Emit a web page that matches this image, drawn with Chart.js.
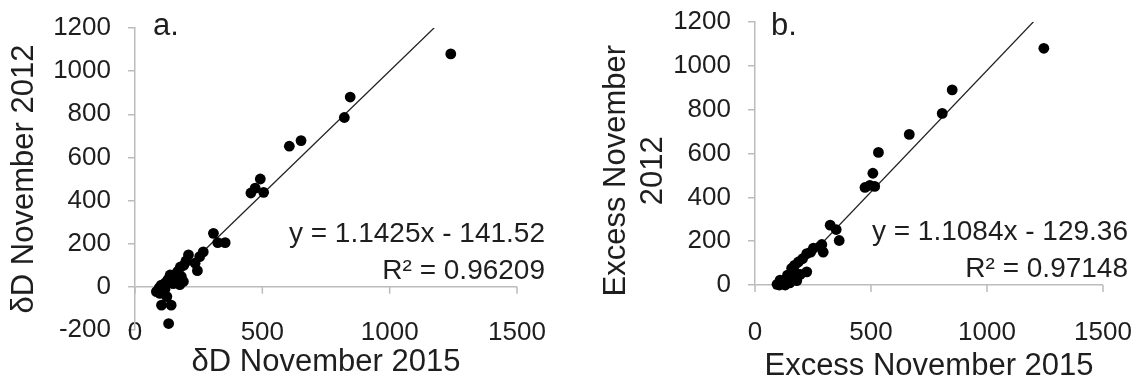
<!DOCTYPE html>
<html>
<head>
<meta charset="utf-8">
<script src="https://cdn.jsdelivr.net/npm/chart.js@4.4.1/dist/chart.umd.min.js"></script>
<style>
  html, body { margin: 0; padding: 0; background: #fff; width: 1143px; height: 382px; overflow: hidden; }
  .panel { position: absolute; top: 0; height: 382px; }
  #panelA { left: 0; width: 570px; }
  #panelB { left: 570px; width: 573px; }
</style>
</head>
<body>
<div class="panel" id="panelA"><canvas id="chartA" width="570" height="382"></canvas></div>
<div class="panel" id="panelB"><canvas id="chartB" width="573" height="382"></canvas></div>
<script>
// a. δD, November 2015 vs November 2012
const dD2015 = [1240, 845, 822, 652, 606, 492, 472, 455, 505, 308, 325, 354, 268, 254, 245, 236, 210, 200, 192, 178,
                168, 162, 182, 138, 170, 150, 130, 103, 95, 84, 110, 98, 125, 104, 142, 132, 118, 155, 190, 176, 120];
const dD2012 = [1080, 880, 785, 678, 652, 500, 458, 435, 438, 248, 205, 205, 162, 140, 75, 110, 148, 120, 100, 92,
                72, 60, 48, 55, 30, 15, 35, 8, -5, -22, -22, -30, -45, -85, -85, -170, -10, 40, 25, 10, 20];
const dDSlope = 1.1425;
const dDIntercept = -141.52;
const dDR2 = '0.96209';

// b. Excess, November 2015 vs November 2012
const ex2015 = [1245, 850, 807, 665, 532, 508, 474, 495, 516, 324, 350, 363, 288, 280, 294, 252, 240, 223, 205, 187,
                170, 223, 195, 158, 175, 140, 150, 165, 125, 108, 120, 95, 105, 115, 135, 150, 130, 180];
const ex2012 = [1080, 890, 783, 687, 605, 510, 445, 455, 450, 273, 253, 203, 185, 175, 150, 168, 150, 143, 120, 105,
                90, 60, 48, 76, 55, 45, 30, 28, 20, 22, 10, 3, 0, 5, 8, 10, 0, 20];
const exSlope = 1.1084;
const exIntercept = -129.36;
const exR2 = '0.97148';

// axis ticks
const xTicks = [0, 500, 1000, 1500];
const yTicksA = [-200, 0, 200, 400, 600, 800, 1000, 1200];
const yTicksB = [0, 200, 400, 600, 800, 1000, 1200];

const FONT = "'Liberation Sans', Arial, Helvetica, sans-serif";
const AXIS_GREY = '#bcbcbc';
const TEXT = '#1e1e1e';

// Panel letter, regression equation and R² text, plus the small tick marks under the zero line
const panelText = {
  id: 'panelText',
  beforeDatasetsDraw(chart, args, opts) {
    const { ctx, scales: { x, y } } = chart;
    const y0 = y.getPixelForValue(0);
    ctx.save();
    ctx.strokeStyle = AXIS_GREY;
    ctx.lineWidth = 1.5;
    ctx.beginPath();
    x.ticks.forEach(t => {
      const px = x.getPixelForValue(t.value);
      ctx.moveTo(px, y0);
      ctx.lineTo(px, y0 + 7);
    });
    ctx.stroke();
    ctx.restore();
  },
  afterDraw(chart, args, opts) {
    const { ctx, chartArea, scales: { y } } = chart;
    const y0 = y.getPixelForValue(0);
    ctx.save();
    ctx.fillStyle = TEXT;
    ctx.font = `31px ${FONT}`;
    ctx.textAlign = 'left';
    ctx.textBaseline = 'alphabetic';
    ctx.fillText(opts.letter, chartArea.left + opts.letterDx, 35);
    ctx.font = `${opts.eqSize}px ${FONT}`;
    ctx.textAlign = 'right';
    ctx.textBaseline = 'middle';
    const right = chartArea.right + opts.eqDx;
    ctx.fillText(opts.equation, right, y0 - 53);
    ctx.fillText(opts.r2, right, y0 - 16);
    ctx.restore();
  }
};

function equationText(slope, intercept) {
  const sign = intercept < 0 ? ' - ' : ' + ';
  return 'y = ' + slope + 'x' + sign + Math.abs(intercept);
}

function makePanel(canvasId, p) {
  const points = p.xs.map((x, i) => ({ x, y: p.ys[i] }));
  const xMin = Math.min(...p.xs), xMax = Math.max(...p.xs);
  const fit = [xMin, xMax].map(x => ({ x, y: p.slope * x + p.intercept }));
  return new Chart(document.getElementById(canvasId), {
    type: 'scatter',
    data: {
      datasets: [
        { data: points, pointRadius: 5.4, pointHoverRadius: 5.4, backgroundColor: '#000', borderWidth: 0, clip: false, order: 1 },
        { data: fit, showLine: true, pointRadius: 0, borderColor: '#222', borderWidth: 1.3, fill: false, order: 2 }
      ]
    },
    plugins: [panelText],
    options: {
      responsive: false,
      animation: false,
      events: [],
      layout: { padding: p.padding },
      plugins: {
        legend: { display: false },
        tooltip: { enabled: false },
        panelText: { letter: p.letter, letterDx: p.letterDx, equation: equationText(p.slope, p.intercept),
                     r2: 'R² = ' + p.r2, eqDx: p.eqDx, eqSize: 28 }
      },
      scales: {
        x: {
          type: 'linear', position: 'bottom', min: 0, max: 1500,
          afterBuildTicks: s => { s.ticks = xTicks.map(v => ({ value: v })); },
          afterFit: s => { s.height = p.xHeight; s.paddingLeft = 0; s.paddingRight = 0; },
          grid: { display: false, drawTicks: false },
          border: { display: false },
          ticks: { mirror: p.xMirror, padding: p.xTickPad, color: TEXT, font: { family: FONT, size: 26 },
                   maxRotation: 0, autoSkip: false, callback: v => String(v) },
          title: { display: true, text: p.xTitle, color: TEXT, font: { family: FONT, size: 31 },
                   padding: { top: 0, bottom: p.xTitlePad } }
        },
        y: {
          type: 'linear', position: 'left', min: p.yTicks[0], max: p.yTicks[p.yTicks.length - 1],
          afterBuildTicks: s => { s.ticks = p.yTicks.map(v => ({ value: v })); },
          afterFit: s => { s.width = p.yWidth; s.paddingTop = 0; s.paddingBottom = 0; },
          grid: {
            drawOnChartArea: true, drawTicks: true, tickLength: 7, lineWidth: 1.5, tickColor: AXIS_GREY,
            color: c => (c.tick && c.tick.value === 0) ? AXIS_GREY : 'rgba(0,0,0,0)'
          },
          border: { display: true, color: AXIS_GREY, width: 1.5 },
          ticks: { padding: 17, color: TEXT, font: { family: FONT, size: 26 }, autoSkip: false,
                   callback: v => String(v) },
          title: { display: true, text: p.yTitle, color: TEXT, font: { family: FONT, size: 31 },
                   padding: { top: p.yTitlePad, bottom: 0 } }
        }
      }
    }
  });
}

makePanel('chartA', {
  xs: dD2015, ys: dD2012, slope: dDSlope, intercept: dDIntercept, r2: dDR2,
  letter: 'a.', letterDx: 18, eqDx: 28,
  yTicks: yTicksA,
  xTitle: 'δD November 2015', yTitle: 'δD November 2012',
  padding: { left: 0, top: 28, right: 53, bottom: 0 },
  yWidth: 135, xHeight: 52, xMirror: true, xTickPad: -18.6, xTitlePad: 1, yTitlePad: 6
});

makePanel('chartB', {
  xs: ex2015, ys: ex2012, slope: exSlope, intercept: exIntercept, r2: exR2,
  letter: 'b.', letterDx: 16, eqDx: 25,
  yTicks: yTicksB,
  xTitle: 'Excess November 2015', yTitle: ['Excess November    ', '2012    '],
  padding: { left: 0, top: 22, right: 40, bottom: 0 },
  yWidth: 185, xHeight: 97, xMirror: false, xTickPad: 32.4, xTitlePad: -3, yTitlePad: 28
});
</script>
</body>
</html>
